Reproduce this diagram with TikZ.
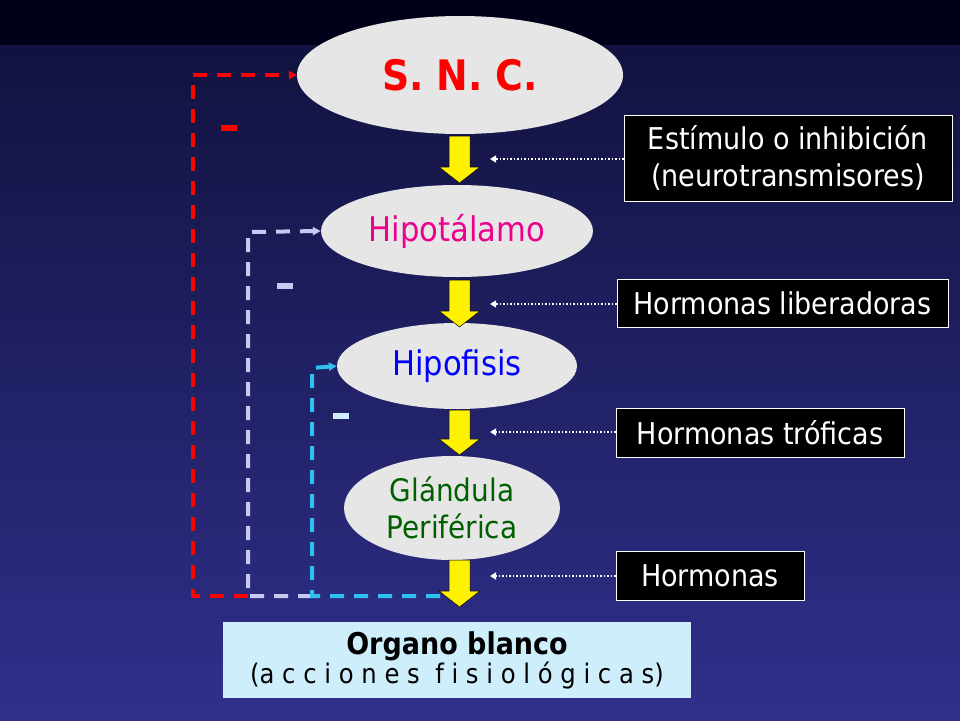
\documentclass[tikz,border=0pt]{standalone}
\usepackage{fontspec}
\setmainfont{DejaVu Sans Condensed}
\usetikzlibrary{shapes.geometric,arrows.meta}
\definecolor{bgtop}{HTML}{121240}
\definecolor{bgbot}{HTML}{30308C}
\definecolor{ellfill}{HTML}{E6E6E6}
\definecolor{lav}{HTML}{C8C8F0}
\definecolor{cyanl}{HTML}{30C0F0}
\definecolor{lightb}{HTML}{CFEEFC}
\definecolor{dgreen}{HTML}{006000}
\tikzset{
  ell/.style={ellipse, fill=ellfill, draw=none, inner sep=0pt},
  infobox/.style={draw=white, line width=0.8pt, fill=black, text=white, font=\fontsize{30}{37}\selectfont, align=center, inner sep=0pt},
  dots/.style={white, dotted, line width=1.5pt, -{Triangle[length=6pt,width=7pt]}},
  fb/.style={dash pattern=on 14pt off 10pt, line width=4pt, -{Triangle[length=8pt,width=8pt]}},
}
\begin{document}
\begin{tikzpicture}[x=1pt,y=-1pt]
\useasboundingbox (0,0) rectangle (960,720);
\shade[top color=bgtop, bottom color=bgbot] (0,45) rectangle (960,720);
\fill[black!90!blue] (0,0) rectangle (960,45);
% ellipses
\node[ell, minimum width=326, minimum height=118, text=red, font=\fontsize{42}{42}\selectfont\bfseries] (snc) at (460,75) {S. N. C.};
\node[ell, minimum width=272, minimum height=92, text=magenta, font=\fontsize{34}{36}\selectfont] (hipo) at (457,231) {Hipotálamo};
\node[ell, minimum width=240, minimum height=86, text=blue, font=\fontsize{34}{36}\selectfont] (hipf) at (457,366) {Hipofisis};
\node[ell, minimum width=216, minimum height=104, text=dgreen, font=\fontsize{31}{37}\selectfont, align=center] (gland) at (452,508) {Glándula\\Periférica};
% bottom box
\node[fill=lightb, minimum width=468, minimum height=76, align=center, inner sep=0pt] (organ) at (457,660) {{\fontsize{30}{32}\selectfont\bfseries Organo blanco}\\[0pt]{\fontsize{27}{30}\selectfont (a c c i o n e s\ \ f i s i o l ó g i c a s)}};
% yellow arrows
\foreach \ya/\yb in {136/183,280/327,410/455,560/607}{
  \fill[yellow,draw=black,line width=0.5pt] (449,\ya) -- (470,\ya) -- (470,\yb-16) -- (480,\yb-16) -- (459.5,\yb) -- (439,\yb-16) -- (449,\yb-16) -- cycle;
}
% info boxes
\node[infobox, minimum width=328, minimum height=86] (b1) at (788,158) {Estímulo o inhibición\\(neurotransmisores)};
\node[infobox, minimum width=331, minimum height=48] (b2) at (782.5,303) {Hormonas liberadoras};
\node[infobox, minimum width=288, minimum height=49] (b3) at (760,432.5) {Hormonas tróficas};
\node[infobox, minimum width=188, minimum height=49] (b4) at (710,575.5) {Hormonas};
\coordinate (d1) at (490,159); \coordinate (d2) at (490,304);
\coordinate (d3) at (490,432); \coordinate (d4) at (490,576);
\draw[dots] (b1.west |- d1) -- (d1);
\draw[dots] (b2.west |- d2) -- (d2);
\draw[dots] (b3.west |- d3) -- (d3);
\draw[dots] (b4.west |- d4) -- (d4);
% feedback
\coordinate (c0) at (440,596);
\coordinate (r1) at (193,596); \coordinate (r2) at (193,75);
\coordinate (l1) at (248,596); \coordinate (l2) at (248,232);
\coordinate (k1) at (312,596); \coordinate (k2) at (312,368);
\draw[fb, red] (l1) -- (r1) -- (r2) -- (snc.west);
\draw[fb, lav] (k1) -- (l1) -- (l2) -- (hipo.west);
\draw[fb, cyanl] (c0) -- (k1) -- (k2) -- (hipf.west);
% minus signs
\fill[red] (221,125) rectangle (237,131);
\fill[lav] (277,283) rectangle (293,289);
\fill[lightb] (333,413) rectangle (349,419);
\end{tikzpicture}
\end{document}
